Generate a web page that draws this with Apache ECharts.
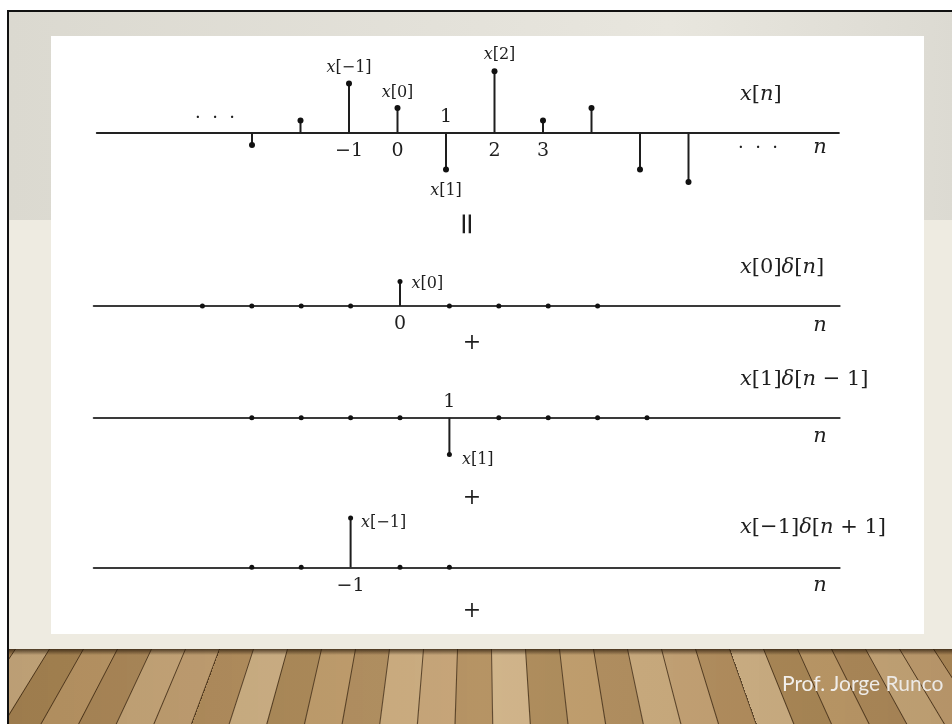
<!DOCTYPE html>
<html>
<head>
<meta charset="utf-8">
<script src="https://cdn.jsdelivr.net/npm/echarts@6/dist/echarts.min.js"></script>
<style>
  html, body { margin: 0; padding: 0; background: #fff; }
  .page { position: relative; width: 952px; height: 724px; overflow: hidden; }
  .slide {
    position: absolute; left: 7px; top: 10px; width: 945px; height: 714px;
    border-top: 2px solid #111; border-left: 2px solid #111;
    background: #eeebe1;
  }
  .band {
    position: absolute; left: 0; top: 0; right: 0; height: 208px;
    background: linear-gradient(90deg, #dbd9d0 0%, #e3e1d9 45%, #e8e6de 70%, #dcdad2 100%);
  }
  .panel { position: absolute; left: 51px; top: 36px; width: 873px; height: 598px; background: #fff; }
  .floor {
    position: absolute; left: 9px; top: 649px; width: 943px; height: 75px; overflow: hidden;
    background: #b38f5f;
  }
  .planks {
    position: absolute; left: -300px; width: 1543px; top: 0; height: 160px;
    transform-origin: 50% 0; transform: perspective(700px) rotateX(45deg);
    background-image:
      repeating-linear-gradient(90deg, rgba(50, 30, 10, .8) 0 1px, transparent 1px 34px),
      repeating-linear-gradient(90deg, #c2a073 0 34px, #b08c5c 34px 68px, #cdb085 68px 102px,
        #a98756 102px 136px, #bd9a69 136px 170px, #ad8a5b 170px 204px, #c8a97c 204px 238px);
  }
  .floor::before {
    content: ''; position: absolute; left: 0; right: 0; top: 0; bottom: 0; z-index: 1;
    background: linear-gradient(90deg, rgba(90, 60, 25, .15), rgba(255, 240, 210, .08) 50%, rgba(90, 60, 25, .12));
  }
  .floor::after {
    content: ''; position: absolute; left: 0; right: 0; top: 0; height: 6px; z-index: 2;
    background: linear-gradient(rgba(40, 25, 10, .75), rgba(40, 25, 10, 0));
  }
  #chart { position: absolute; left: 0; top: 0; width: 952px; height: 724px; }
</style>
</head>
<body>
<div class="page">
  <div class="slide"><div class="band"></div></div>
  <div class="panel"></div>
  <div class="floor"><div class="planks"></div></div>
  <div id="chart"></div>
</div>
<script>
// x[n] and its three shifted impulse terms
const nMain = [-3, -2, -1, 0, 1, 2, 3, 4, 5, 6]
const xMain = [-1, 1, 4, 2, -3, 5, 1, 2, -3, -4]
const nTerm0 = [-4, -3, -2, -1, 0, 1, 2, 3, 4]
const xTerm0 = [0, 0, 0, 0, 2, 0, 0, 0, 0]
const nTerm1 = [-3, -2, -1, 0, 1, 2, 3, 4, 5]
const xTerm1 = [0, 0, 0, 0, -3, 0, 0, 0, 0]
const nTermM1 = [-3, -2, -1, 0, 1]
const xTermM1 = [0, 0, 4, 0, 0]

// tick labels under / over the n axis
const ticksBelow = [[-1, 0, 2, 3], [0], [], [-1]]
const ticksAbove = [[1], [], [1], []]

// stem annotations
const stemLabelN = [[-1, 0, 1, 2], [0], [1], [-1]]
const stemLabelText = [['x[−1]', 'x[0]', 'x[1]', 'x[2]'], ['x[0]'], ['x[1]'], ['x[−1]']]

const panelTitles = ['x[n]', 'x[0]δ[n]', 'x[1]δ[n − 1]', 'x[−1]δ[n + 1]']
const plusSigns = ['+', '+', '+']

const signals = [
  { n: nMain, v: xMain },
  { n: nTerm0, v: xTerm0 },
  { n: nTerm1, v: xTerm1 },
  { n: nTermM1, v: xTermM1 },
]

// layout (pixels)
const UNIT = 12.3
const Y_HALF = 5
const X_MIN = -6.2
const panels = [
  { axisY: 132.7, origin: 397.5, step: 48.5, xMax: 9.1, dot: 6 },
  { axisY: 306, origin: 400, step: 49.4, xMax: 8.9, dot: 5 },
  { axisY: 417.7, origin: 400, step: 49.4, xMax: 8.9, dot: 5 },
  { axisY: 567.3, origin: 400, step: 49.4, xMax: 8.9, dot: 5 },
]
const labelPlace = [
  [
    { position: 'top', distance: 5, offset: [0, 0] },
    { position: 'top', distance: 4, offset: [0, 0] },
    { position: 'bottom', distance: 10, offset: [0, 0] },
    { position: 'top', distance: 5, offset: [5, 0] },
  ],
  [{ position: 'right', distance: 9, offset: [0, 2] }],
  [{ position: 'right', distance: 10, offset: [0, 5] }],
  [{ position: 'right', distance: 8, offset: [0, 5] }],
]

const MATH = 'DejaVu Serif'
const INK = '#1e1e1e'

const mathRich = (s) => s.replace(/([xnδ])/g, '{i|$1}')
const richStyle = (size) => ({
  i: { fontFamily: MATH, fontStyle: 'italic', fontSize: size, color: INK },
})
const tickText = (v) => (v < 0 ? '\u2212' + Math.abs(v) : String(v))

const chart = echarts.init(document.getElementById('chart'))

const grid = panels.map((p) => ({
  left: p.origin + X_MIN * p.step,
  width: (p.xMax - X_MIN) * p.step,
  top: p.axisY - Y_HALF * UNIT,
  height: 2 * Y_HALF * UNIT,
}))

// axes sit at n = 0 line: shift the bottom axis up by half the grid
const xAxis = []
panels.forEach((p, i) => {
  const base = {
    gridIndex: i, type: 'value', min: X_MIN, max: p.xMax, position: 'bottom',
    offset: -Y_HALF * UNIT,
    axisTick: { show: false }, splitLine: { show: false },
  }
  xAxis.push({
    ...base,
    axisLine: { show: true, onZero: false, lineStyle: { color: i === 0 ? '#222' : '#3a3a3a', width: 2 } },
    axisLabel: {
      show: ticksBelow[i].length > 0, customValues: ticksBelow[i], margin: 9,
      formatter: tickText, fontFamily: MATH, fontSize: 19, color: INK,
    },
  })
  xAxis.push({
    ...base,
    axisLine: { show: false, onZero: false },
    axisLabel: {
      show: ticksAbove[i].length > 0, customValues: ticksAbove[i], inside: true, margin: 6,
      formatter: tickText, fontFamily: MATH, fontSize: 19, color: INK,
    },
  })
})

const yAxis = panels.map((p, i) => ({ gridIndex: i, type: 'value', min: -Y_HALF, max: Y_HALF, show: false }))

const series = []
signals.forEach((s, i) => {
  series.push({
    type: 'bar',
    xAxisIndex: 2 * i,
    yAxisIndex: i,
    barWidth: 2,
    silent: true,
    itemStyle: { color: INK },
    data: s.n.map((n, k) => [n, s.v[k]]).filter((d) => d[1] !== 0),
  })
  series.push({
    type: 'scatter',
    xAxisIndex: 2 * i,
    yAxisIndex: i,
    symbolSize: panels[i].dot,
    silent: true,
    z: 3,
    itemStyle: { color: '#111', opacity: 1 },
    data: s.n.map((n, k) => {
      const li = stemLabelN[i].indexOf(n)
      if (li < 0) return [n, s.v[k]]
      const place = labelPlace[i][li]
      return {
        value: [n, s.v[k]],
        label: {
          show: true,
          formatter: mathRich(stemLabelText[i][li]),
          rich: richStyle(16),
          fontFamily: MATH,
          fontSize: 16,
          color: INK,
          ...place,
        },
      }
    }),
  })
})

const mathText = (x, y, text, size, align) => ({
  type: 'text',
  x, y,
  silent: true,
  style: {
    text: mathRich(text),
    rich: richStyle(size),
    fontFamily: MATH,
    fontSize: size,
    fill: INK,
    align: align || 'left',
    verticalAlign: 'middle',
  },
})

const titleY = [95, 268, 380, 528]
const nLabelY = [148, 326, 437, 586]
const plusY = [343, 498, 611]

const graphic = []
panelTitles.forEach((t, i) => graphic.push(mathText(740, titleY[i], t, 21)))
nLabelY.forEach((y) => graphic.push(mathText(820, y, 'n', 21, 'center')))
plusSigns.forEach((t, i) => graphic.push(mathText(472, plusY[i], t, 22, 'center')))
graphic.push(mathText(215, 118, '·  ·  ·', 18, 'center'))
graphic.push(mathText(758, 148, '·  ·  ·', 18, 'center'))
graphic.push({
  type: 'text', x: 468, y: 224, rotation: Math.PI / 2, silent: true,
  style: { text: '=', fontFamily: MATH, fontSize: 30, fill: INK, align: 'center', verticalAlign: 'middle' },
})
graphic.push({
  type: 'text', x: 782, y: 684, silent: true,
  style: { text: 'Prof. Jorge Runco', fontFamily: 'Lato', fontSize: 21, fill: '#fff', verticalAlign: 'middle' },
})

chart.setOption({
  animation: false,
  backgroundColor: 'transparent',
  grid,
  xAxis,
  yAxis,
  series,
  graphic,
})
</script>
</body>
</html>
